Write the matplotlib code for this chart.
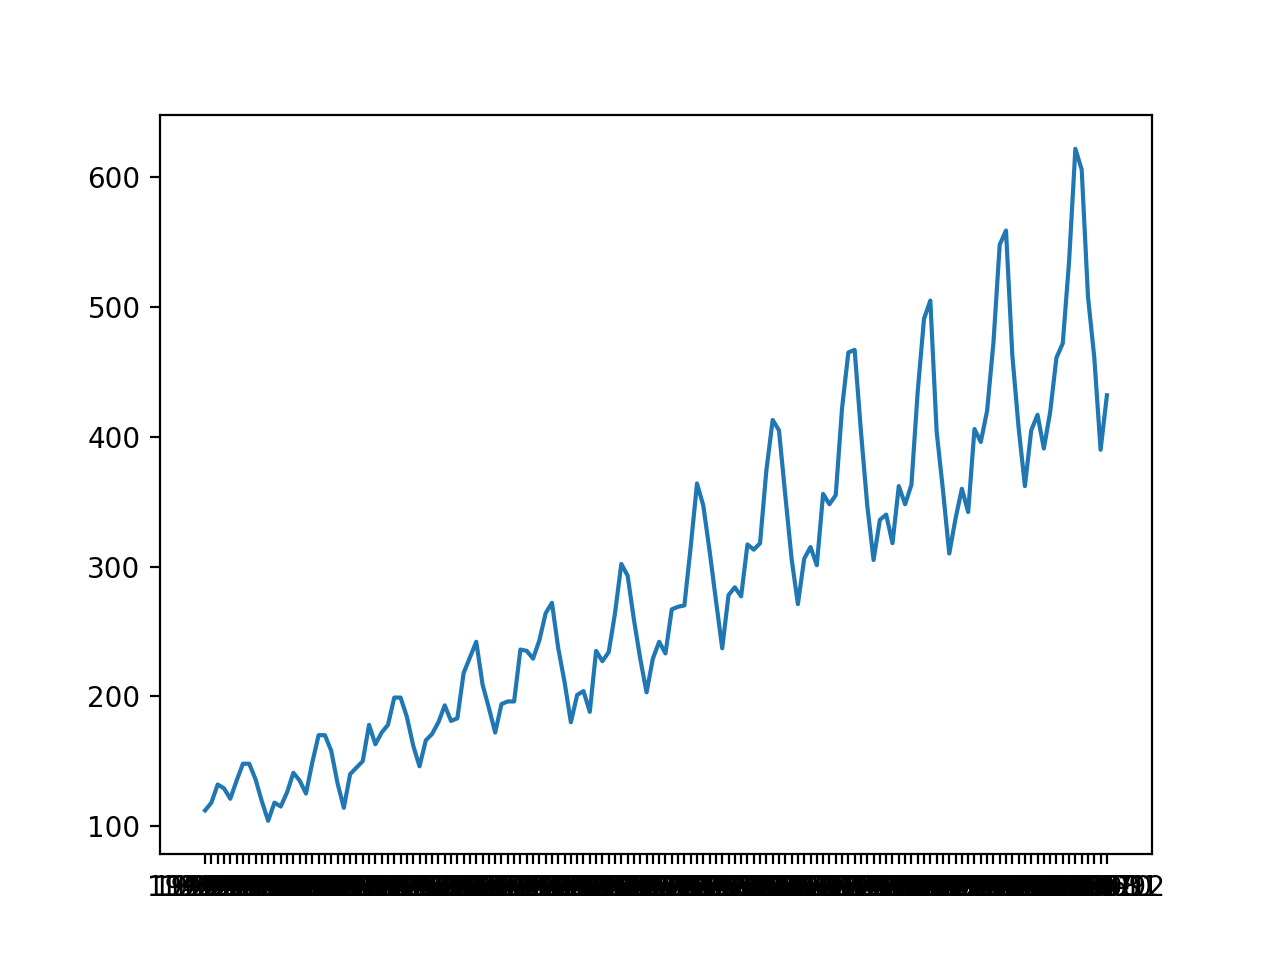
import matplotlib
matplotlib.use('Agg')
from matplotlib import pyplot as plt

years = list(range(1949, 1961))

# monthly passengers, one row per year
passengers = [
    [112, 118, 132, 129, 121, 135, 148, 148, 136, 119, 104, 118],
    [115, 126, 141, 135, 125, 149, 170, 170, 158, 133, 114, 140],
    [145, 150, 178, 163, 172, 178, 199, 199, 184, 162, 146, 166],
    [171, 180, 193, 181, 183, 218, 230, 242, 209, 191, 172, 194],
    [196, 196, 236, 235, 229, 243, 264, 272, 237, 211, 180, 201],
    [204, 188, 235, 227, 234, 264, 302, 293, 259, 229, 203, 229],
    [242, 233, 267, 269, 270, 315, 364, 347, 312, 274, 237, 278],
    [284, 277, 317, 313, 318, 374, 413, 405, 355, 306, 271, 306],
    [315, 301, 356, 348, 355, 422, 465, 467, 404, 347, 305, 336],
    [340, 318, 362, 348, 363, 435, 491, 505, 404, 359, 310, 337],
    [360, 342, 406, 396, 420, 472, 548, 559, 463, 407, 362, 405],
    [417, 391, 419, 461, 472, 535, 622, 606, 508, 461, 390, 432],
]

months = []
values = []
for y, row in zip(years, passengers):
    for m, v in enumerate(row):
        months.append('%d-%02d' % (y, m + 1))
        values.append(v)

plt.figure(figsize=(6.4, 4.8), dpi=200)
plt.plot(months, values)
plt.savefig('out.png', dpi=200)
